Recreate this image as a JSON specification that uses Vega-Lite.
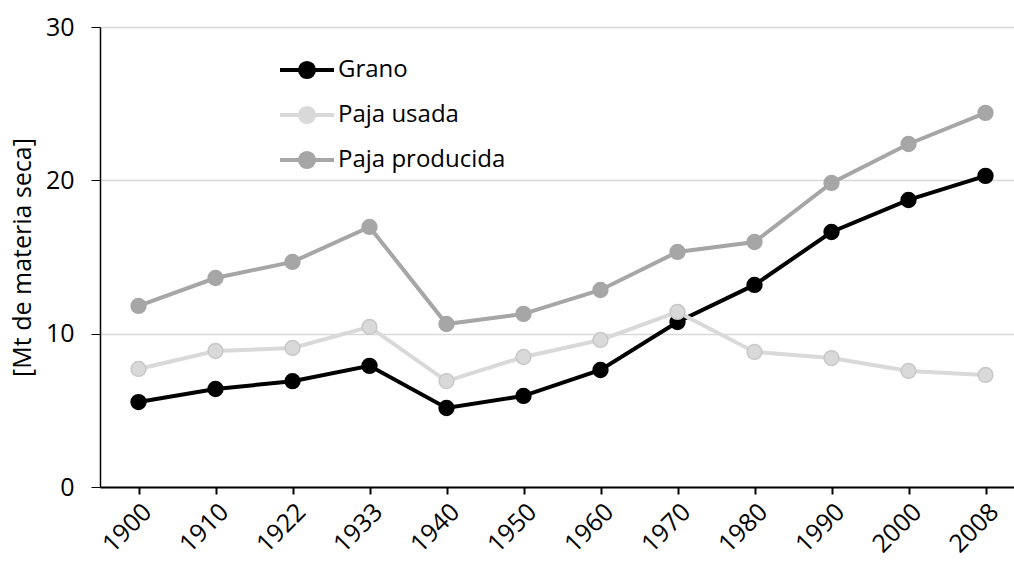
{
  "$schema": "https://vega.github.io/schema/vega-lite/v6.json",
  "width": 924,
  "height": 460,
  "autosize": "none",
  "padding": {"left": 100, "top": 27, "right": 0, "bottom": 76},
  "background": "white",
  "config": {
    "view": {"stroke": null},
    "font": "Open Sans",
    "axis": {"labelFont": "Open Sans", "titleFont": "Open Sans", "labelColor": "#000", "titleColor": "#000"}
  },
  "data": {"values": [
    {"year": "1900", "serie": "Grano", "v": 5.54},
    {"year": "1910", "serie": "Grano", "v": 6.39},
    {"year": "1922", "serie": "Grano", "v": 6.9},
    {"year": "1933", "serie": "Grano", "v": 7.9},
    {"year": "1940", "serie": "Grano", "v": 5.15},
    {"year": "1950", "serie": "Grano", "v": 5.94},
    {"year": "1960", "serie": "Grano", "v": 7.63},
    {"year": "1970", "serie": "Grano", "v": 10.76},
    {"year": "1980", "serie": "Grano", "v": 13.18},
    {"year": "1990", "serie": "Grano", "v": 16.63},
    {"year": "2000", "serie": "Grano", "v": 18.72},
    {"year": "2008", "serie": "Grano", "v": 20.29},
    {"year": "1900", "serie": "Paja usada", "v": 7.7},
    {"year": "1910", "serie": "Paja usada", "v": 8.87},
    {"year": "1922", "serie": "Paja usada", "v": 9.07},
    {"year": "1933", "serie": "Paja usada", "v": 10.44},
    {"year": "1940", "serie": "Paja usada", "v": 6.91},
    {"year": "1950", "serie": "Paja usada", "v": 8.48},
    {"year": "1960", "serie": "Paja usada", "v": 9.59},
    {"year": "1970", "serie": "Paja usada", "v": 11.42},
    {"year": "1980", "serie": "Paja usada", "v": 8.81},
    {"year": "1990", "serie": "Paja usada", "v": 8.41},
    {"year": "2000", "serie": "Paja usada", "v": 7.57},
    {"year": "2008", "serie": "Paja usada", "v": 7.31},
    {"year": "1900", "serie": "Paja producida", "v": 11.81},
    {"year": "1910", "serie": "Paja producida", "v": 13.63},
    {"year": "1922", "serie": "Paja producida", "v": 14.68},
    {"year": "1933", "serie": "Paja producida", "v": 16.96},
    {"year": "1940", "serie": "Paja producida", "v": 10.63},
    {"year": "1950", "serie": "Paja producida", "v": 11.29},
    {"year": "1960", "serie": "Paja producida", "v": 12.85},
    {"year": "1970", "serie": "Paja producida", "v": 15.33},
    {"year": "1980", "serie": "Paja producida", "v": 15.98},
    {"year": "1990", "serie": "Paja producida", "v": 19.83},
    {"year": "2000", "serie": "Paja producida", "v": 22.37},
    {"year": "2008", "serie": "Paja producida", "v": 24.4}
  ]},
  "encoding": {
    "x": {
      "field": "year", "type": "ordinal", "sort": null,
      "scale": {"type": "point", "padding": 0.5},
      "axis": {
        "title": null, "labelAngle": -45, "labelFontSize": 25, "labelPadding": 5,
        "tickSize": 7, "tickColor": "#000", "tickWidth": 2, "domainColor": "#000", "domainWidth": 2, "grid": false
      }
    },
    "y": {
      "field": "v", "type": "quantitative",
      "scale": {"domain": [0, 30], "nice": false},
      "axis": {
        "title": "[Mt de materia seca]", "titleFontSize": 25, "titleFontWeight": "normal", "titlePadding": 10,
        "values": [0, 10, 20, 30], "labelFontSize": 25, "labelPadding": 17,
        "tickSize": 9, "tickColor": "#000", "domainColor": "#000", "domainWidth": 1.5,
        "gridColor": "#d9d9d9", "gridWidth": 1.5
      }
    },
    "color": {
      "field": "serie", "type": "nominal",
      "scale": {"domain": ["Grano", "Paja usada", "Paja producida"], "range": ["#000000", "#d9d9d9", "#a6a6a6"]},
      "legend": {
        "title": null, "orient": "none", "legendX": 190, "legendY": 26,
        "labelFontSize": 24, "labelColor": "#000", "labelFont": "Open Sans", "labelLimit": 0,
        "symbolType": "M-1.8,0H1.8M-0.47,0A0.47,0.47,0,1,1,0.47,0A0.47,0.47,0,1,1,-0.47,0Z",
        "symbolSize": 900, "symbolStrokeWidth": 4, "symbolOpacity": 1,
        "rowPadding": 12, "labelOffset": 14
      }
    }
  },
  "layer": [
    {"mark": {"type": "line", "strokeWidth": 4}},
    {"mark": {"type": "point", "filled": true, "size": 220, "opacity": 1}, "encoding": {"fill": {"field": "serie", "type": "nominal", "scale": {"domain": ["Grano", "Paja usada", "Paja producida"], "range": ["#000000", "#d9d9d9", "#a6a6a6"]}, "legend": null}, "stroke": {"field": "serie", "type": "nominal", "scale": {"domain": ["Grano", "Paja usada", "Paja producida"], "range": ["#000000", "#c8c8c8", "#a6a6a6"]}, "legend": null}, "strokeWidth": {"value": 1.5}}}
  ]
}
